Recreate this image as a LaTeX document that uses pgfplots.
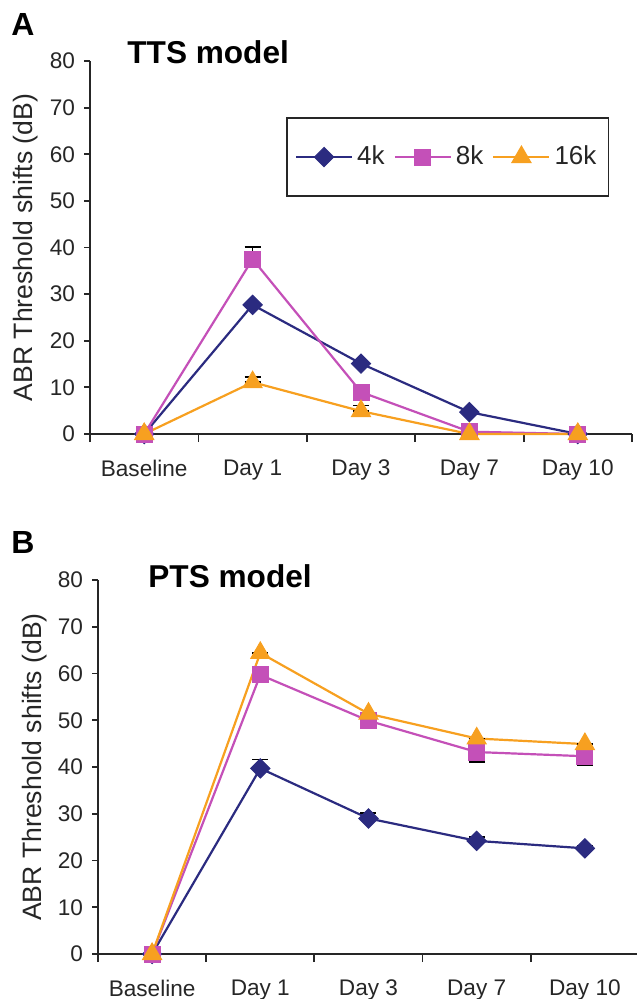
\documentclass[border=0pt]{standalone}
\usepackage{fontspec}
\setmainfont{Liberation Sans}
\usepackage{pgfplots}
\pgfplotsset{compat=1.18}
\usepackage{pgfplotstable}

\definecolor{navy}{RGB}{43,43,128}
\definecolor{pinkk}{RGB}{196,80,184}
\definecolor{orng}{RGB}{247,160,32}

% TTS model (panel A): x y plus-error minus-error
\pgfplotstableread{
x y ep em
0 0 0 0
1 27.7 0 0
2 15.1 0 0
3 4.7 0 0
4 0 0 0
}\ttsfour
\pgfplotstableread{
x y ep em
0 0 0 0
1 37.5 2.6 0
2 9.0 0.8 0
3 0.5 0 0
4 0 0 0
}\ttseight
\pgfplotstableread{
x y ep em
0 0 0 0
1 11.1 1.2 0
2 4.9 1.2 0
3 0 0 0
4 0 0 0
}\ttssixteen

% PTS model (panel B)
\pgfplotstableread{
x y ep em
0 0 0 0
1 39.7 1.9 0
2 29.0 1.1 0
3 24.2 0.8 0
4 22.6 0.6 0
}\ptsfour
\pgfplotstableread{
x y ep em
0 0 0 0
1 59.7 0.3 0
2 49.9 0 1.5
3 43.2 0 2.1
4 42.3 0 1.9
}\ptseight
\pgfplotstableread{
x y ep em
0 0 0 0
1 64.4 0 0
2 51.4 0 0
3 46.1 0 0
4 44.9 0 0
}\ptssixteen

\pgfplotsset{
  abr/.style={
    scale only axis, width=271pt, height=186.5pt,
    xmin=-0.5, xmax=4.5, ymin=0, ymax=80,
    clip=false,
    axis lines*=left,
    axis line style={line width=0.9pt, black!85},
    xtick={0,...,4},
    xticklabels={Baseline, Day 1, Day 3, Day 7, Day 10},
    minor xtick={-0.5,0.5,...,4.5},
    ytick={0,10,...,80},
    tick align=outside,
    major tick length=3pt, minor tick length=4pt,
    major x tick style={draw=none},
    minor x tick style={line width=0.9pt, black!85},
    major y tick style={line width=0.9pt, black!85},
    ticklabel style={font=\fontsize{11.3}{13}\selectfont, text=black!85},
    /pgf/number format/assume math mode=true,
    xticklabel style={yshift=-6.5pt},
    yticklabel style={xshift=-1pt},
    ylabel={ABR Threshold shifts (dB)},
    ylabel style={font=\fontsize{13.3}{15}\selectfont, text=black!85,
      at={(axis description cs:-0.118,0.5)}, anchor=center},
    error bars/y dir=both, error bars/y explicit,
    error bars/error bar style={black, line width=0.8pt},
    error bars/error mark options={black, line width=0.9pt, mark size=4pt, rotate=90},
    legend image code/.code={
      \draw[mark repeat=2, mark phase=2] plot coordinates {(0pt,0pt) (14pt,0pt) (28pt,0pt)};
    },
  },
  s4/.style={navy, line width=1.1pt, mark=square*, mark size=3.4pt,
    mark options={rotate=45, fill=navy, draw=navy, line width=0.5pt}},
  s8/.style={pinkk, line width=1.1pt, mark=square*, mark size=4pt,
    mark options={fill=pinkk, draw=pinkk, line width=0.5pt}},
  s16/.style={orng, line width=1.1pt, mark=triangle*, mark size=5.5pt,
    mark options={fill=orng, draw=orng, line width=0.5pt}},
}

\begin{document}
\begin{tikzpicture}
\useasboundingbox (0,0) rectangle (318pt,-499.5pt);

\begin{axis}[abr, at={(45pt,-217pt)}, anchor=south west,
  legend style={at={(axis description cs:0.362,0.849)}, anchor=north west,
    legend columns=3, draw=black!85, line width=0.8pt,
    font=\fontsize{13}{15}\selectfont, text=black!85,
    inner xsep=4pt, inner ysep=12pt,
    /tikz/every even column/.append style={column sep=2.5pt}},
  legend cell align=left]
\addplot[s4] table[x=x, y=y, y error plus=ep, y error minus=em] {\ttsfour};
\addplot[s8] table[x=x, y=y, y error plus=ep, y error minus=em] {\ttseight};
\addplot[s16] table[x=x, y=y, y error plus=ep, y error minus=em] {\ttssixteen};
\legend{4k, 8k, 16k}
\end{axis}

\begin{axis}[abr, at={(49pt,-477pt)}, anchor=south west, width=270.5pt, height=187pt]
\addplot[s4] table[x=x, y=y, y error plus=ep, y error minus=em] {\ptsfour};
\addplot[s8] table[x=x, y=y, y error plus=ep, y error minus=em] {\ptseight};
\addplot[s16] table[x=x, y=y, y error plus=ep, y error minus=em] {\ptssixteen};
\end{axis}

\node[anchor=center, font=\bfseries\fontsize{16}{18}\selectfont] at (11.5pt,-12pt) {A};
\node[anchor=west, font=\bfseries\fontsize{15.8}{18}\selectfont, inner sep=0pt] at (63.5pt,-26pt) {TTS model};
\node[anchor=center, font=\bfseries\fontsize{16}{18}\selectfont] at (11.5pt,-271pt) {B};
\node[anchor=west, font=\bfseries\fontsize{15.8}{18}\selectfont, inner sep=0pt] at (74pt,-288pt) {PTS model};
\end{tikzpicture}
\end{document}
